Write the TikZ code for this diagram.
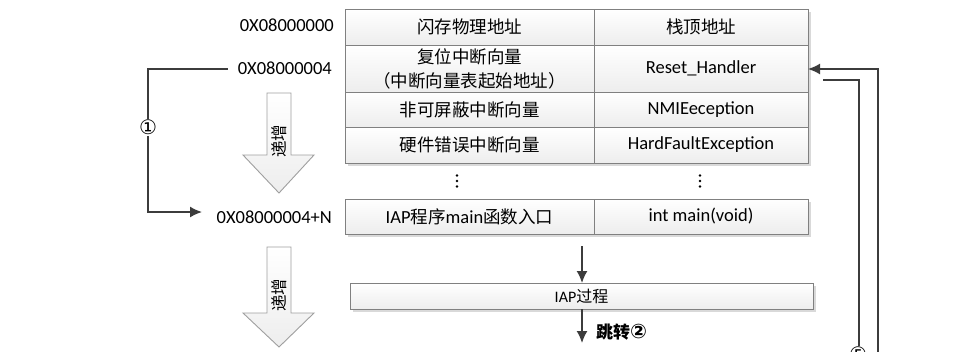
\documentclass[tikz,border=0pt]{standalone}
\usepackage{fontspec}
\setmainfont{Carlito}
\newfontfamily\cjk{Noto Sans CJK SC}
\newfontfamily\symf{DejaVu Sans}
\usetikzlibrary{arrows.meta}
\newcommand{\zh}[1]{{\cjk #1}}
\definecolor{lnc}{HTML}{3C3C3C}
\definecolor{bdc}{HTML}{808080}
\tikzset{
  lat/.style={font=\fontsize{18.5}{22}\selectfont, text=black, inner sep=0pt},
  cell/.style={draw=bdc, line width=1pt, top color=white, bottom color=gray!14, inner sep=0pt, outer sep=0pt, align=center},
  conn/.style={draw=lnc, line width=1.6pt},
  arr/.style={-{Latex[length=12pt,width=11pt]}},
  hollow/.style={draw=gray!75, line width=0.9pt, top color=white, bottom color=gray!14},
  shad/.style={fill=gray!30, draw=none},
  circnum/.style={font=\symf\fontsize{20}{22}\selectfont, fill=white, inner sep=1pt, text=black}
}
\begin{document}
\begin{tikzpicture}[x=1pt,y=-1pt]
\useasboundingbox (0,0) rectangle (968,351);
\fill[white] (0,0) rectangle (968,351);

% shadows
\fill[shad] (348,12) rectangle (811,166);
\fill[shad] (348,202) rectangle (811,237);
\fill[shad] (353,286) rectangle (816,312);

% table rows
\node[cell, minimum width=249, minimum height=36] (r1a) at (469.5,27) {\zh{\fontsize{17.5}{24}\selectfont 闪存物理地址}};
\node[cell, minimum width=214, minimum height=36] (r1b) at (701,27) {\zh{\fontsize{17.5}{24}\selectfont 栈顶地址}};
\node[cell, minimum width=249, minimum height=47, font=\cjk\fontsize{17.5}{24}\selectfont] (r2a) at (469.5,68.5) {复位中断向量\\（中断向量表起始地址）};
\node[cell, minimum width=214, minimum height=47, lat] (r2b) at (701,68.5) {Reset\_Handler};
\node[cell, minimum width=249, minimum height=35] (r3a) at (469.5,109.5) {\zh{\fontsize{17.5}{24}\selectfont 非可屏蔽中断向量}};
\node[cell, minimum width=214, minimum height=35, lat] (r3b) at (701,109.5) {NMIEeception};
\node[cell, minimum width=249, minimum height=36] (r4a) at (469.5,145) {\zh{\fontsize{17.5}{24}\selectfont 硬件错误中断向量}};
\node[cell, minimum width=214, minimum height=36, lat] (r4b) at (701,145) {HardFaultException};

% dots
\foreach \yy in {175.5,181,186.5} {
  \fill[black] (457,\yy) circle (1.4);
  \fill[black] (700,\yy) circle (1.4);
}

% main row
\node[cell, minimum width=249, minimum height=35, lat] (m1) at (469.5,216.5) {IAP\zh{\fontsize{17.5}{24}\selectfont 程序}main\zh{\fontsize{17.5}{24}\selectfont 函数入口}};
\node[cell, minimum width=214, minimum height=35, lat] (m2) at (701,216.5) {int main(void)};

% IAP box
\node[cell, minimum width=463, minimum height=26, font=\fontsize{16}{20}\selectfont] (iap) at (581.5,296) {IAP\zh{过程}};

% addresses
\node[lat, anchor=east] (a0) at (334,25) {0X08000000};
\node[lat, anchor=east] (a4) at (332,68) {0X08000004};
\node[lat, anchor=east] (aN) at (332,217) {0X08000004+N};

% arrow 1
\coordinate (k1) at (148,69);
\coordinate (k2) at (148,212);
\coordinate (k3) at (202,212);
\draw[conn, arr] ([xshift=-10pt]a4.west |- k1) -- (k1) -- node[circnum, pos=0.41] (n1) {①} (k2) -- (k3);

% hollow arrows
\path[hollow] (267,93) -- (291,93) -- (291,155) -- (314,155) -- (279,193) -- (243,155) -- (267,155) -- cycle;
\node[font=\cjk\fontsize{16.5}{18}\selectfont, rotate=90, inner sep=0pt] (inc1) at (279,141) {递增};
\path[hollow] (267,247) -- (291,247) -- (291,313) -- (314,313) -- (279,347) -- (243,313) -- (267,313) -- cycle;
\node[font=\cjk\fontsize{16.5}{18}\selectfont, rotate=90, inner sep=0pt] (inc2) at (279,295) {递增};

% arrows to and from IAP
\coordinate (t1) at (582,246);
\draw[conn, arr] (t1) -- (t1 |- iap.north);
\coordinate (t2) at (582,343);
\draw[conn, arr] (t2 |- iap.south) -- (t2);
\node[font=\bfseries\fontsize{17}{20}\selectfont, anchor=west, inner sep=0pt] (jump) at (596,332) {\zh{跳转}{\symf\bfseries\fontsize{20}{22}\selectfont ②}};

% right side lines
\coordinate (o1) at (878,360);
\coordinate (o2) at (878,69);
\draw[conn, arr] (o1) -- (o2) -- (r2b.east |- o2);
\coordinate (i1) at (823,80);
\coordinate (i2) at (859,80);
\node[font=\symf\fontsize{20}{22}\selectfont, inner sep=0pt] (n5) at (858,354) {⑤};
\draw[conn] (i1) -- (i2) -- (n5.north -| i2);
\end{tikzpicture}
\end{document}
